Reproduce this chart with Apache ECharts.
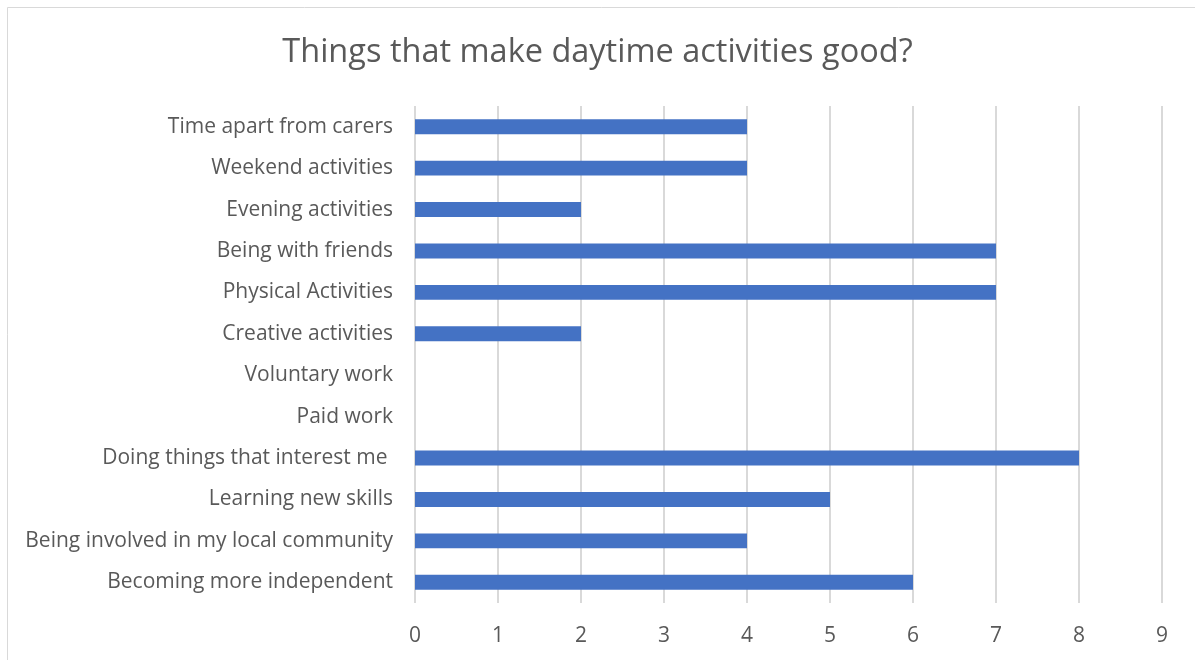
<!DOCTYPE html>
<html>
<head>
<meta charset="utf-8">
<script src="https://cdn.jsdelivr.net/npm/echarts@6/dist/echarts.min.js"></script>
<style>
  html, body { margin: 0; padding: 0; background: #ffffff; }
  #chart { width: 1195px; height: 660px; }
</style>
</head>
<body>
<div id="chart"></div>
<script>
// Categories listed bottom-to-top (category axis on y starts at the bottom)
const categories = [
  'Becoming more independent',
  'Being involved in my local community',
  'Learning new skills',
  'Doing things that interest me ',
  'Paid work',
  'Voluntary work',
  'Creative activities',
  'Physical Activities',
  'Being with friends',
  'Evening activities',
  'Weekend activities',
  'Time apart from carers'
];
const counts = [6, 4, 5, 8, 0, 0, 2, 7, 7, 2, 4, 4];
const xTicks = { min: 0, max: 9, interval: 1 };

const FONT = '"Open Sans", "Noto Sans", sans-serif';

const chart = echarts.init(document.getElementById('chart'), null, { renderer: 'canvas' });
chart.setOption({
  animation: false,
  backgroundColor: '#ffffff',
  title: {
    text: 'Things that make daytime activities good?',
    left: 'center',
    top: 31,
    textStyle: { fontFamily: FONT, fontSize: 32.5, fontWeight: 'normal', color: '#595959' }
  },
  graphic: [{
    type: 'rect',
    shape: { x: 7.5, y: 7.5, width: 1200, height: 700 },
    style: { fill: 'none', stroke: '#d9d9d9', lineWidth: 1 },
    silent: true
  }],
  grid: { left: 415, right: 33, top: 106, bottom: 57, containLabel: false },
  xAxis: {
    type: 'value',
    min: xTicks.min, max: xTicks.max, interval: xTicks.interval,
    axisLine: { show: false },
    axisTick: { show: false },
    axisLabel: { fontFamily: FONT, fontSize: 21, color: '#595959', margin: 23 },
    splitLine: { show: true, lineStyle: { color: '#d9d9d9', width: 2 } }
  },
  yAxis: {
    type: 'category',
    data: categories,
    axisLine: { show: false },
    axisTick: { show: false },
    axisLabel: { fontFamily: FONT, fontSize: 21, color: '#595959', margin: 22 },
    splitLine: { show: false }
  },
  series: [{
    type: 'bar',
    data: counts,
    barWidth: '36%',
    itemStyle: { color: '#4472c4' }
  }]
});
</script>
</body>
</html>
